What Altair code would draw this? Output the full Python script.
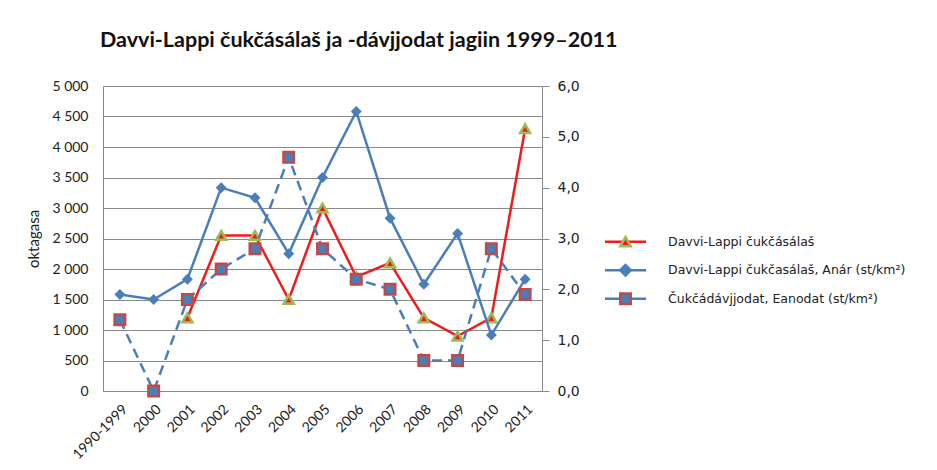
import altair as alt
import pandas as pd

# ---------------- data ----------------
years = ["1990-1999", "2000", "2001", "2002", "2003", "2004", "2005",
         "2006", "2007", "2008", "2009", "2010", "2011"]
counts = [None, None, 1200, 2550, 2550, 1500, 3000, 1870, 2100, 1200, 900, 1200, 4300]
anar = [1.9, 1.8, 2.2, 4.0, 3.8, 2.7, 4.2, 5.5, 3.4, 2.1, 3.1, 1.1, 2.2]
eanodat = [1.4, 0.0, 1.8, 2.4, 2.8, 4.6, 2.8, 2.2, 2.0, 0.6, 0.6, 2.8, 1.9]
series_names = ["Davvi-Lappi čukčásálaš",
                "Davvi-Lappi čukčasálaš, Anár (st/km²)",
                "Čukčádávjjodat, Eanodat (st/km²)"]
left_ticks = [0, 500, 1000, 1500, 2000, 2500, 3000, 3500, 4000, 4500, 5000]
right_ticks = [0, 1, 2, 3, 4, 5, 6]
title_text = "Davvi-Lappi čukčásálaš ja -dávjjodat jagiin 1999–2011"

df = pd.DataFrame({"year": years, "count": counts, "anar": anar, "eanodat": eanodat})
leg_df = pd.DataFrame({"name": series_names, "row": [0, 1, 2]})

RED = "#f01c1c"
BLUE = "#4a7ebb"
GREEN = "#9bbb59"
BROWN = "#be4b48"
GRAY = "#8a8a8a"
TXT = "#222222"
FONT = "Lato"
FONT2 = "DejaVu Sans"

x = alt.X("year:N", sort=years, scale=alt.Scale(domain=years),
          axis=alt.Axis(title=None, labelAngle=-45, ticks=False, labelFont=FONT,
                        labelFontSize=14, labelColor=TXT, domainColor=GRAY,
                        labelPadding=11))

base = alt.Chart(df)

red_y = alt.Y("count:Q", scale=alt.Scale(domain=[0, 5000], nice=False),
              axis=alt.Axis(values=left_ticks, title="oktagasa", ticks=False, grid=True,
                            gridColor=GRAY, domainColor=GRAY,
                            labelExpr="replace(format(datum.value, ','), ',', ' ')",
                            labelFont=FONT, labelFontSize=14, labelColor=TXT,
                            labelPadding=15, titleFont=FONT, titleFontSize=15,
                            titleFontWeight="normal", titleColor=TXT, titlePadding=10))

red_src = base.transform_filter("isValid(datum['count'])")
red_line = red_src.mark_line(color=RED, strokeWidth=2.5).encode(x=x, y=red_y)
red_pts = red_src.mark_point(shape="triangle-up", filled=True, fill=RED, stroke=GREEN,
                             strokeWidth=2.5, size=100, opacity=1).encode(x=x, y=red_y)
red = alt.layer(red_line, red_pts)

right_axis = alt.Axis(orient="right", values=right_ticks, grid=False, ticks=True,
                      tickSize=7, tickColor=GRAY, domainColor=GRAY, title=None,
                      labelExpr="replace(format(datum.value, '.1f'), '.', ',')",
                      labelFont=FONT2, labelFontSize=14, labelColor=TXT, labelPadding=8)
dscale = alt.Scale(domain=[0, 6], nice=False)
y_anar = alt.Y("anar:Q", scale=dscale, axis=right_axis)
y_ean = alt.Y("eanodat:Q", scale=dscale, axis=right_axis)

anar_line = base.mark_line(color=BLUE, strokeWidth=2.5).encode(x=x, y=y_anar)
anar_pts = base.mark_point(shape="diamond", filled=True, color=BLUE, size=120,
                           opacity=1).encode(x=x, y=y_anar)
ean_line = base.mark_line(color=BLUE, strokeWidth=2.5, strokeDash=[10, 6]).encode(x=x, y=y_ean)
ean_pts = base.mark_point(shape="square", filled=True, fill=BLUE, stroke=BROWN,
                          strokeWidth=2.5, size=110, opacity=1).encode(x=x, y=y_ean)

blue = alt.layer(anar_line, ean_line, anar_pts, ean_pts)
main = alt.layer(red, blue).resolve_scale(y="independent").properties(
    width=439, height=305)

# ---------------- legend panel ----------------
lbase = alt.Chart(leg_df)
ly = alt.Y("row:Q", scale=alt.Scale(domain=[-5.46, 5.24], reverse=True, nice=False, zero=False),
           axis=None)
lx_scale = alt.Scale(domain=[0, 1], nice=False, zero=False)
leg_rule = lbase.mark_rule(strokeWidth=2.5).encode(
    x=alt.X(datum=0, type="quantitative", scale=lx_scale, axis=None),
    x2=alt.datum(1),
    y=ly,
    color=alt.Color("name:N", scale=alt.Scale(domain=series_names, range=[RED, BLUE, BLUE]),
                    legend=None))
leg_pts = lbase.mark_point(filled=True, size=110, strokeWidth=2.5, opacity=1).encode(
    x=alt.X(datum=0.5, type="quantitative", scale=lx_scale, axis=None),
    y=ly,
    shape=alt.Shape("name:N", scale=alt.Scale(domain=series_names,
                                              range=["triangle-up", "diamond", "square"]),
                    legend=None),
    fill=alt.Fill("name:N", scale=alt.Scale(domain=series_names, range=[RED, BLUE, BLUE]),
                  legend=None),
    stroke=alt.Stroke("name:N", scale=alt.Scale(domain=series_names,
                                                range=[GREEN, BLUE, BROWN]), legend=None))
leg_txt = lbase.mark_text(align="left", baseline="middle", dx=22, font=FONT2,
                          fontSize=12.5, color=TXT).encode(
    x=alt.X(datum=1, type="quantitative", scale=lx_scale, axis=None),
    y=ly, text="name:N")
legend = alt.layer(leg_rule, leg_pts, leg_txt).properties(width=41, height=305)

chart = alt.hconcat(main, legend, spacing=23).properties(
    title=alt.TitleParams(title_text, anchor="start", font=FONT, fontSize=21.5,
                          fontWeight="bold", color="#111111", dx=73, offset=28)
).configure(padding={"left": 18, "top": 21, "right": 2, "bottom": 2}
).configure_view(stroke=None)

chart.save("out.html", embed_options={"renderer": "svg", "actions": False})
